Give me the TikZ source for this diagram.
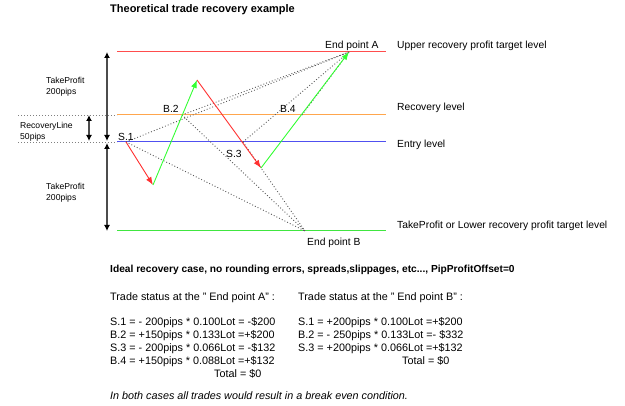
\documentclass[tikz,border=0pt]{standalone}
\usepackage{fontspec}
\setmainfont{Liberation Sans}
\usetikzlibrary{arrows.meta}
\definecolor{tpred}{HTML}{FF4D4D}
\definecolor{recorange}{HTML}{FFA64D}
\definecolor{entryblue}{HTML}{5050F0}
\definecolor{tpgreen}{HTML}{40E640}
\definecolor{sellred}{HTML}{FF3030}
\definecolor{buygreen}{HTML}{33FF33}

\begin{document}
\begin{tikzpicture}[x=1pt,y=-1pt,
  txt/.style={font=\fontsize{10.3}{12}\selectfont, inner sep=0pt, anchor=west},
  bodytxt/.style={font=\fontsize{10.8}{12}\selectfont, inner sep=0pt, anchor=west},
  smalltxt/.style={font=\fontsize{8.6}{11}\selectfont, inner sep=0pt, anchor=west, align=left},
  levelline/.style={line width=1pt},
  guide/.style={gray, line width=0.8pt, dash pattern=on 0.8pt off 2.2pt},
  pipspan/.style={gray!60!black, line width=1.3pt,
    {Latex[black,length=6pt,width=6pt]}-{Latex[black,length=6pt,width=6pt]}},
  trade/.style={line width=0.9pt, -{Latex[length=8pt,width=6pt]}},
  tracing/.style={gray!70!black, line width=0.9pt, dash pattern=on 0.9pt off 2.1pt}
]
  \useasboundingbox (0,0) rectangle (625,406);
  % --- Title ---
  \node[txt, font=\fontsize{11}{12}\selectfont\bfseries] (title) at (110,10) {Theoretical trade recovery example};
  % --- Price levels ---
  \draw[levelline, tpred]     (117,52)  -- (386,52);
  \draw[levelline, recorange] (117,115) -- (386,115);
  \draw[levelline, entryblue] (117,142) -- (386,142);
  \draw[levelline, tpgreen]   (117,231) -- (386,231);
  \node[txt] (upperlbl) at (397,46)  {Upper recovery profit target level};
  \node[txt] (reclbl)   at (397,108) {Recovery level};
  \node[txt] (entrylbl) at (397,145) {Entry level};
  \node[txt] (lowerlbl) at (397,226) {TakeProfit or Lower recovery profit target level};
  % --- Distance markers ---
  \draw[guide] (18,115) -- (117,115);
  \draw[guide] (18,142) -- (117,142);
  \coordinate (tptop) at (107,52);
  \coordinate (tpmid) at (107,141);
  \coordinate (tpmid2) at (107,143);
  \coordinate (tpbot) at (107,231);
  \coordinate (rltop) at (89,115);
  \coordinate (rlbot) at (89,141);
  \draw[pipspan] (tptop) -- (tpmid);
  \draw[pipspan] (tpmid2) -- (tpbot);
  \draw[pipspan] (rltop) -- (rlbot);
  \node[smalltxt] (tpup)  at (46,86.5) {TakeProfit\\200pips};
  \node[smalltxt] (rline) at (20,131.5) {RecoveryLine\\50pips};
  \node[smalltxt] (tplow) at (46,193) {TakeProfit\\200pips};
  % --- Price path ---
  \coordinate (S1) at (126,142);
  \coordinate (low1) at (153,185);
  \coordinate (B2) at (182,115);
  \coordinate (high1) at (197,80);
  \coordinate (S3) at (243,142);
  \coordinate (low2) at (261,168);
  \coordinate (B4) at (302,115);
  \coordinate (endA) at (349,52);
  \coordinate (endB) at (305,231);
  % trades to end points (dotted)
  \draw[tracing] (S1) -- (endA);
  \draw[tracing] (B2) -- (endA);
  \draw[tracing] (S3) -- (endA);
  \draw[tracing] (B4) -- (endA);
  \draw[tracing] (S1) -- (endB);
  \draw[tracing] (B2) -- (endB);
  \draw[tracing] (S3) -- (endB);
  % moves
  \draw[trade, sellred]  (S1) -- (low1);
  \draw[trade, buygreen] (low1) -- (high1);
  \draw[trade, sellred]  (high1) -- (low2);
  \draw[trade, buygreen] (low2) -- (endA);
  % --- Trade labels ---
  \node[txt] (s1lbl) at (118,137) {S.1};
  \node[txt] (b2lbl) at (163,109) {B.2};
  \node[txt] (s3lbl) at (226,154) {S.3};
  \node[txt] (b4lbl) at (280,109) {B.4};
  \node[txt] (endAlbl) at (325,46) {End point A};
  \node[txt] (endBlbl) at (307,243) {End point B};
  % --- Trade status ---
  \node[txt, font=\fontsize{10.2}{12}\selectfont\bfseries] (ideal) at (110,270)
    {Ideal recovery case, no rounding errors, spreads,slippages, etc..., PipProfitOffset=0};
  \node[bodytxt] (statA) at (110,298) {Trade status at the " End point A" :};
  \node[bodytxt] (statB) at (298,298) {Trade status at the " End point B" :};
  \node[bodytxt] (a1) at (110,323) {S.1 = - 200pips * 0.100Lot = -\$200};
  \node[bodytxt] (a2) at (110,336) {B.2 = +150pips * 0.133Lot =+\$200};
  \node[bodytxt] (a3) at (110,349) {S.3 = - 200pips * 0.066Lot = -\$132};
  \node[bodytxt] (a4) at (110,362) {B.4 = +150pips * 0.088Lot =+\$132};
  \node[bodytxt] (atot) at (214,374) {Total = \$0};
  \node[bodytxt] (b1) at (298,323) {S.1 = +200pips * 0.100Lot =+\$200};
  \node[bodytxt] (b2) at (298,336) {B.2 = - 250pips * 0.133Lot =- \$332};
  \node[bodytxt] (b3) at (298,349) {S.3 = +200pips * 0.066Lot =+\$132};
  \node[bodytxt] (btot) at (402,361) {Total = \$0};
  \node[bodytxt, font=\fontsize{10.8}{12}\selectfont\itshape] (note) at (110,396)
    {In both cases all trades would result in a break even condition.};
\end{tikzpicture}
\end{document}
